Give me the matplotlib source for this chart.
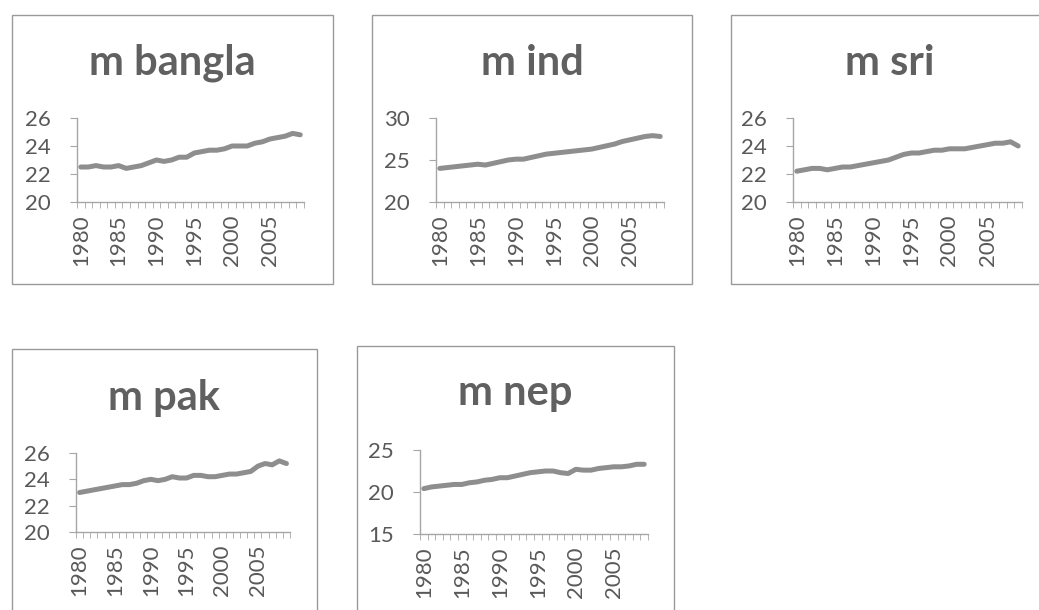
import matplotlib
matplotlib.use("Agg")
import matplotlib.pyplot as plt
import numpy as np
from matplotlib.patches import Rectangle

years = list(range(1980, 2010))

m_bangla = [22.5, 22.5, 22.6, 22.5, 22.5, 22.6, 22.4, 22.5, 22.6, 22.8,
            23.0, 22.9, 23.0, 23.2, 23.2, 23.5, 23.6, 23.7, 23.7, 23.8,
            24.0, 24.0, 24.0, 24.2, 24.3, 24.5, 24.6, 24.7, 24.9, 24.8]
m_ind = [24.0, 24.1, 24.2, 24.3, 24.4, 24.5, 24.4, 24.6, 24.8, 25.0,
         25.1, 25.1, 25.3, 25.5, 25.7, 25.8, 25.9, 26.0, 26.1, 26.2,
         26.3, 26.5, 26.7, 26.9, 27.2, 27.4, 27.6, 27.8, 27.9, 27.8]
m_sri = [22.2, 22.3, 22.4, 22.4, 22.3, 22.4, 22.5, 22.5, 22.6, 22.7,
         22.8, 22.9, 23.0, 23.2, 23.4, 23.5, 23.5, 23.6, 23.7, 23.7,
         23.8, 23.8, 23.8, 23.9, 24.0, 24.1, 24.2, 24.2, 24.3, 24.0]
m_pak = [23.0, 23.1, 23.2, 23.3, 23.4, 23.5, 23.6, 23.6, 23.7, 23.9,
         24.0, 23.9, 24.0, 24.2, 24.1, 24.1, 24.3, 24.3, 24.2, 24.2,
         24.3, 24.4, 24.4, 24.5, 24.6, 25.0, 25.2, 25.1, 25.4, 25.2]
m_nep = [20.4, 20.6, 20.7, 20.8, 20.9, 20.9, 21.1, 21.2, 21.4, 21.5,
         21.7, 21.7, 21.9, 22.1, 22.3, 22.4, 22.5, 22.5, 22.3, 22.2,
         22.7, 22.6, 22.6, 22.8, 22.9, 23.0, 23.0, 23.1, 23.3, 23.3]

W, H = 1039, 610

# (title, data, ylim, yticks, box px (l, t, r, b), axes px (l, top, r, bottom), title baseline y)
panels = [
    ("m bangla", m_bangla, (20, 26), [20, 22, 24, 26], (12, 15, 333, 284), (77, 118, 304, 202), 75),
    ("m ind", m_ind, (20, 30), [20, 25, 30], (372, 15, 692, 284), (436, 118, 664, 202), 75),
    ("m sri", m_sri, (20, 26), [20, 22, 24, 26], (731, 15, 1049, 284), (793, 118, 1022, 202), 75),
    ("m pak", m_pak, (20, 26), [20, 22, 24, 26], (12, 349, 317, 620), (76, 453, 290, 532), 410),
    ("m nep", m_nep, (15, 25), [15, 20, 25], (357, 346, 674, 620), (420, 450, 648, 534), 405),
]

fig = plt.figure(figsize=(W / 100, H / 100), dpi=100)
fig.patch.set_facecolor("white")

grey_txt = "#595959"
line_col = "#8e8e8e"
axis_col = "#a6a6a6"

for title, vals, ylim, yt, box, ax_px, tb in panels:
    l, t, r, b = box
    fig.patches.append(Rectangle((l / W, 1 - b / H), (r - l) / W, (b - t) / H,
                                 transform=fig.transFigure, fill=False,
                                 edgecolor="#9a9a9a", linewidth=1.0))
    al, at, ar, ab = ax_px
    ax = fig.add_axes([al / W, 1 - ab / H, (ar - al) / W, (ab - at) / H])
    x = np.arange(len(vals))
    ax.plot(x, vals, color=line_col, linewidth=3.6, solid_capstyle="round")
    ax.set_xlim(-0.5, len(vals) - 0.5)
    ax.set_ylim(*ylim)
    ax.set_yticks(yt)
    ax.set_yticklabels([str(v) for v in yt], fontsize=16, color=grey_txt, family="Lato")
    ax.set_xticks(x[::5])
    ax.set_xticklabels([str(years[i]) for i in x[::5]], rotation=90,
                       fontsize=16, color=grey_txt, family="Lato")
    ax.set_xticks(np.arange(-0.5, len(vals)), minor=True)
    ax.tick_params(axis="x", which="major", length=0, pad=9)
    ax.tick_params(axis="x", which="minor", length=4, color=axis_col, direction="out")
    ax.tick_params(axis="y", length=5, color=axis_col, pad=14)
    for s in ["top", "right"]:
        ax.spines[s].set_visible(False)
    for s in ["left", "bottom"]:
        ax.spines[s].set_color(axis_col)
        ax.spines[s].set_linewidth(1.0)
    ax.set_facecolor("none")
    fig.text(((l + r) / 2) / W, 1 - tb / H, title, ha="center", va="baseline",
             fontsize=30, fontweight="bold", color="#606060", family="Lato")

fig.savefig("out.png", dpi=100, facecolor="white")
